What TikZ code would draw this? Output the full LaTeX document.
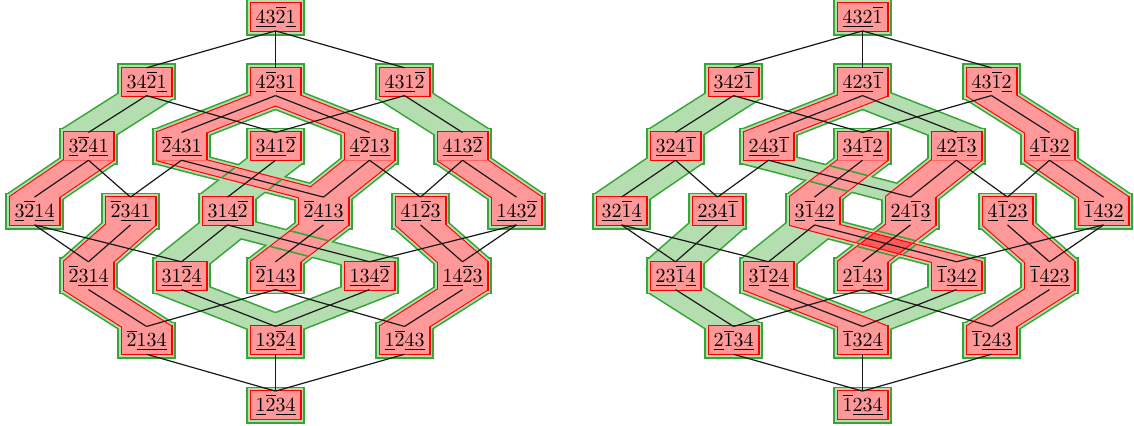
\documentclass[tikz,border=0pt]{standalone}
\usepackage{amsmath}
\usetikzlibrary{calc}
\pgfdeclarelayer{greenbg}
\pgfdeclarelayer{redbg}
\pgfdeclarelayer{cross}
\pgfdeclarelayer{lines}
\pgfsetlayers{greenbg,redbg,cross,lines,main}

\definecolor{gdark}{RGB}{55,165,55}
\definecolor{glight}{RGB}{180,222,176}
\definecolor{rdark}{RGB}{255,0,0}
\definecolor{rlight}{RGB}{255,153,153}

% signed digits: the negative one gets a bar, the others are underlined
\newcommand{\negdigit}{2}
\newcommand{\dig}[1]{\ifnum#1=\negdigit\relax\overline{#1}\else\underline{#1}\fi}
\newcommand{\mkperm}[4]{\dig{#1}\dig{#2}\dig{#3}\dig{#4}}

% a box and the band from the bottom of one box to the top of the next
\newcommand{\pbox}[1]{(#1.south west) rectangle (#1.north east)}
\newcommand{\pband}[2]{(#1.south west) -- (#1.south east) -- (#2.north east) -- (#2.north west) -- cycle}
% the two slanted rims of a band, pushed out by #3
\newcommand{\rimlines}[4]{\draw[#4] ($(#1.south east)!#3!90:(#2.north east)$) -- ($(#2.north east)!#3!-90:(#1.south east)$)
  ($(#1.south west)!#3!-90:(#2.north west)$) -- ($(#2.north west)!#3!90:(#1.south west)$);}

\def\perms{4321,3421,4231,4312,3241,2431,3412,4213,4132,3214,2341,3142,2413,4123,1432,2314,3124,2143,1342,1423,2134,1324,1243,1234}
\def\hasse{4321/3421, 4321/4231, 4321/4312, 3421/3241, 3421/3412, 4231/2431, 4231/4213, 4312/3412, 4312/4132,
  3241/2341, 3241/3214, 2431/2341, 2431/2413, 3412/3142, 4213/2413, 4213/4123, 4132/1432, 4132/4123,
  3214/2314, 3214/3124, 2341/2314, 3142/1342, 3142/3124, 2413/2143, 4123/1423, 1432/1342, 1432/1423,
  2314/2134, 3124/1324, 2143/1243, 2143/2134, 1342/1324, 1423/1243, 2134/1234, 1324/1234, 1243/1234}
\def\greenbands{L3421/L3241, L4312/L4132, L3412/L3142, L3142/L3124, L3142/L1342, L3124/L1324, L1342/L1324,
  R3421/R3241, R3241/R3214, R2431/R2413, R4231/R4213, R3142/R3124, R1342/R1324, R2341/R2314, R2314/R2134}
\def\redbands{L3241/L3214, L4231/L2431, L4231/L4213, L2431/L2413, L4213/L2413, L2413/L2143, L2341/L2314,
  L2314/L2134, L4123/L1423, L1423/L1243, L4132/L1432,
  R4231/R2431, R4312/R4132, R4132/R1432, R3412/R3142, R4213/R2413, R2413/R2143, R3142/R1342, R3124/R1324,
  R4123/R1423, R1423/R1243}

\tikzset{
  perm/.style={rectangle, minimum width=24.5pt, minimum height=13.5pt, inner sep=0.5pt},
  hasse/.style={black!90, line width=0.6pt},
  band/.style={line join=miter, miter limit=1.5},
  gout/.style={band, draw=gdark, fill=gdark, line width=4.6pt},
  gin/.style={band, draw=glight, fill=glight, line width=3pt},
  rout/.style={band, draw=rdark, fill=rdark, line width=1.1pt},
  rin/.style={fill=rlight},
  grim/.style={gdark, line width=0.8pt},
  rrim/.style={rdark, line width=0.55pt},
}

\begin{document}
\begin{tikzpicture}[x=0.5pt,y=-0.5pt]
\useasboundingbox (0,0) rectangle (1134,425);

% the two lattices
\foreach \s/\cx/\nd in {L/275.5/2, R/862.5/1}
\foreach \p/\dx/\r in {4321/0/0, 3421/-129/1, 4231/0/1, 4312/129/1,
  3241/-187/2, 2431/-94/2, 3412/0/2, 4213/94/2, 4132/187/2,
  3214/-241/3, 2341/-145/3, 3142/-48/3, 2413/48/3, 4123/145/3, 1432/241/3,
  2314/-187/4, 3124/-94/4, 2143/0/4, 1342/94/4, 1423/187/4,
  2134/-129/5, 1324/0/5, 1243/129/5, 1234/0/6}
  \node[perm] (\s\p) at ({\cx+\dx},{17+64.67*\r}) {$\def\negdigit{\nd}\expandafter\mkperm\p$};

% green bands (every band has a green rim)
\begin{pgfonlayer}{greenbg}
\foreach \s in {L,R} \foreach \p in \perms \path[gout] \pbox{\s\p};
\foreach \a/\b in \greenbands \path[gout] \pband{\a}{\b};
\foreach \a/\b in \redbands \path[gout] \pband{\a}{\b};
\foreach \s in {L,R} \foreach \p in \perms \path[gin] \pbox{\s\p};
\foreach \a/\b in \greenbands \path[gin] \pband{\a}{\b};
\foreach \a/\b in \redbands \path[gin] \pband{\a}{\b};
\end{pgfonlayer}

% red bands
\begin{pgfonlayer}{redbg}
\foreach \s in {L,R} \foreach \p in \perms \path[rout] \pbox{\s\p};
\foreach \a/\b in \redbands \path[rout] \pband{\a}{\b};
\foreach \s in {L,R} \foreach \p in \perms \path[rin] \pbox{\s\p};
\foreach \a/\b in \redbands \path[rin] \pband{\a}{\b};
\end{pgfonlayer}

% where bands cross, the upper one shows its rims
\begin{pgfonlayer}{cross}
\foreach \g/\h/\a/\b in {L3412/L3142/L2431/L2413, L3142/L1342/L2413/L2143, R2431/R2413/R3412/R3142}{
  \begin{scope}
    \clip \pband{\a}{\b};
    \rimlines{\g}{\h}{1.9pt}{grim}
  \end{scope}
}
\begin{scope}
  \clip \pband{R2413}{R2143};
  \fill[rdark, fill opacity=0.4] \pband{R3142}{R1342};
  \rimlines{R3142}{R1342}{1.9pt}{grim}
  \rimlines{R3142}{R1342}{0.27pt}{rrim}
\end{scope}
\begin{scope}
  \clip \pband{R3142}{R1342};
  \rimlines{R2413}{R2143}{1.9pt}{grim}
  \rimlines{R2413}{R2143}{0.27pt}{rrim}
\end{scope}
\end{pgfonlayer}

% covers
\begin{pgfonlayer}{lines}
\foreach \s in {L,R} \foreach \a/\b in \hasse \draw[hasse] (\s\a.south) -- (\s\b.north);
\end{pgfonlayer}
\end{tikzpicture}
\end{document}
